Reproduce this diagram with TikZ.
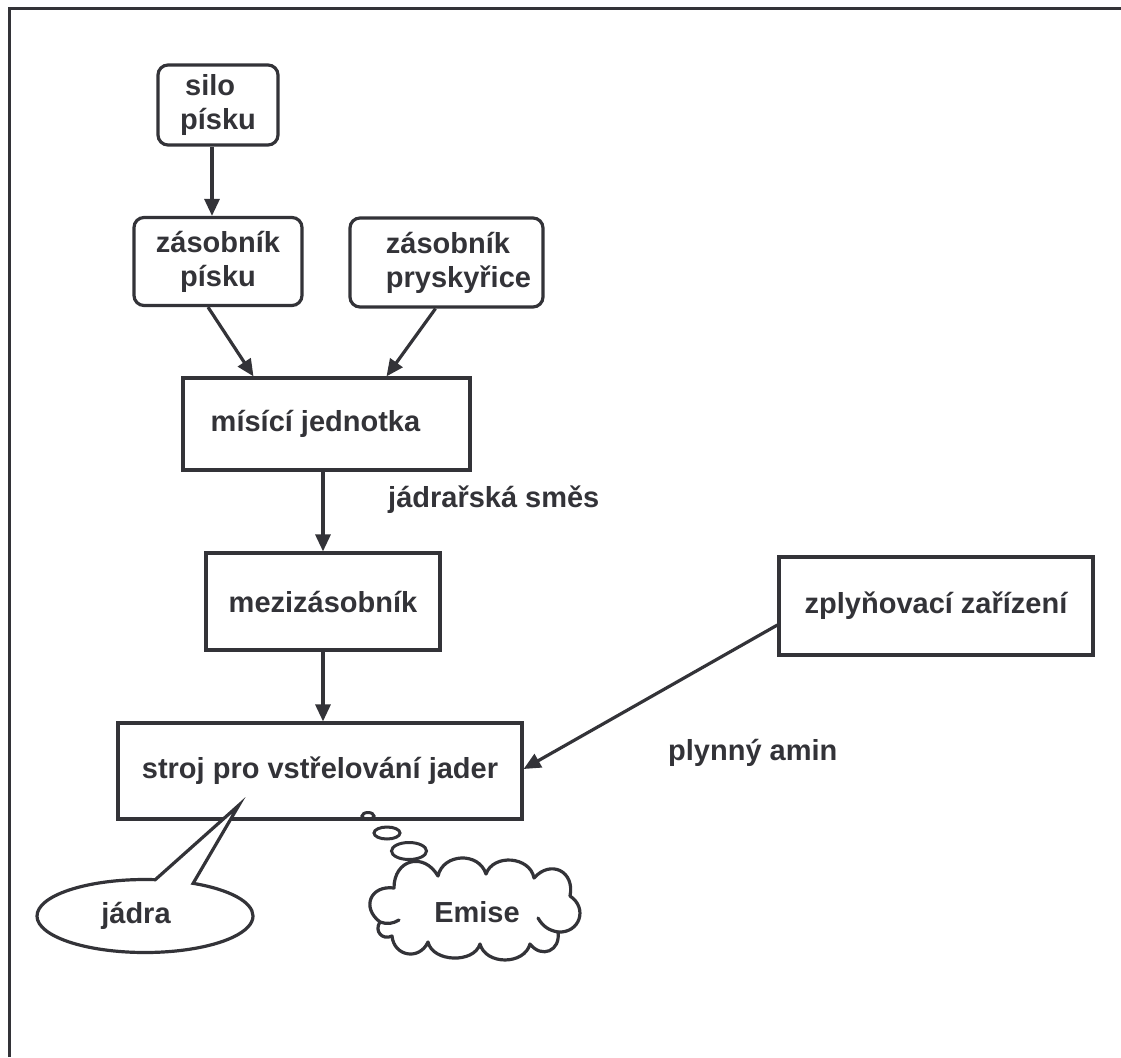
\documentclass[tikz,border=0pt]{standalone}
\usepackage{fontspec}
\setmainfont{Liberation Sans}
\usetikzlibrary{shapes.geometric,shapes.callouts,arrows.meta}
\definecolor{ink}{RGB}{51,51,56}
\begin{document}
\begin{tikzpicture}[x=1pt,y=-1pt,
  every node/.style={font=\fontsize{29}{34}\selectfont\bfseries, text=ink},
  rbox/.style={draw=ink, line width=3.2pt, rounded corners=10pt, align=center, inner sep=0pt},
  sbox/.style={draw=ink, line width=3.2pt, align=center, inner sep=0pt},
  conn/.style={draw=ink, line width=3.2pt, -{Triangle[length=17pt,width=15pt]}},
  lbl/.style={inner sep=0pt, anchor=west},
  puff/.style={draw=ink, line width=3pt, ellipse, inner sep=0pt},
  cloudline/.style={draw=ink, line width=3.2pt, line cap=round, line join=round},
  pf/.style={bend left=75, looseness=#1}
]
\useasboundingbox (0,0) rectangle (1121,1057);
\draw[draw=ink, line width=3.5pt] (9.5,1057) -- (9.5,8.5) -- (1121,8.5);

\node[rbox, minimum width=120pt, minimum height=80pt, align=left] (silo) at (218,105) {\hspace*{5pt}silo\\písku};
\node[rbox, minimum width=168pt, minimum height=88pt] (zasp) at (218,261.5) {zásobník\\písku};
\node[rbox, minimum width=193pt, minimum height=89pt, align=left] (zasr) at (446.5,262.5) {\hspace*{24pt}zásobník\\\hspace*{24pt}pryskyřice};
\node[sbox, minimum width=287pt, minimum height=92pt] (mis) at (326.5,424) {\hspace*{-22pt}mísící jednotka};
\node[sbox, minimum width=234pt, minimum height=97pt] (mezi) at (323,601.5) {mezizásobník};
\node[sbox, minimum width=314pt, minimum height=98pt] (zply) at (936,606) {zplyňovací zařízení};
\node[sbox, minimum width=404pt, minimum height=96pt] (stroj) at (320,771) {stroj pro vstřelování jader};

\node[lbl] (smes) at (388,500) {jádrařská směs};
\node[lbl] (amin) at (668,753) {plynný amin};

\coordinate (jtip) at (239,805);
\node[ellipse callout, draw=ink, line width=3.2pt, fill=white, minimum width=216pt, minimum height=73pt,
  callout absolute pointer={(jtip)}, callout pointer arc=21, inner sep=0pt] (jadra) at (145,916) {\hspace*{-18pt}jádra};

\node[puff, minimum width=12pt, minimum height=7pt] (b1) at (368,816) {};
\node[puff, minimum width=26pt, minimum height=12pt] (b2) at (387,833) {};
\node[puff, minimum width=35pt, minimum height=17pt] (b3) at (409,851) {};

\draw[cloudline] (380,922) to[pf=1.66] (394,888) to[pf=1.6] (438,876) to[pf=1.25] (486,874)
  to[pf=1.17] (534,878) to[pf=1.6] (570,896) to[pf=1.47] (558,932) to[pf=1.6] (530,944)
  to[pf=1.13] (480,944) to[pf=1.02] (428,942) to[pf=1.45] (392,936) to[pf=1.5] (380,922);
\draw[cloudline] (380,922) to[bend right=25] (399,920);
\draw[cloudline] (558,932) to[bend left=25] (538,918);
\node[inner sep=0pt] (emise) at (477,912) {Emise};

\draw[conn] ([xshift=-6pt]silo.south) -- ([xshift=-6pt]zasp.north);
\draw[conn] ([xshift=-10pt]zasp.south) -- ([xshift=-73pt]mis.north);
\draw[conn] ([xshift=-11pt]zasr.south) -- ([xshift=60pt]mis.north);
\draw[conn] (mis.south -| mezi.north) -- (mezi.north);
\draw[conn] (mezi.south) -- (mezi.south |- stroj.north);
\draw[conn] ([yshift=-19pt]zply.west) -- ([yshift=2pt]stroj.east);
\end{tikzpicture}
\end{document}
